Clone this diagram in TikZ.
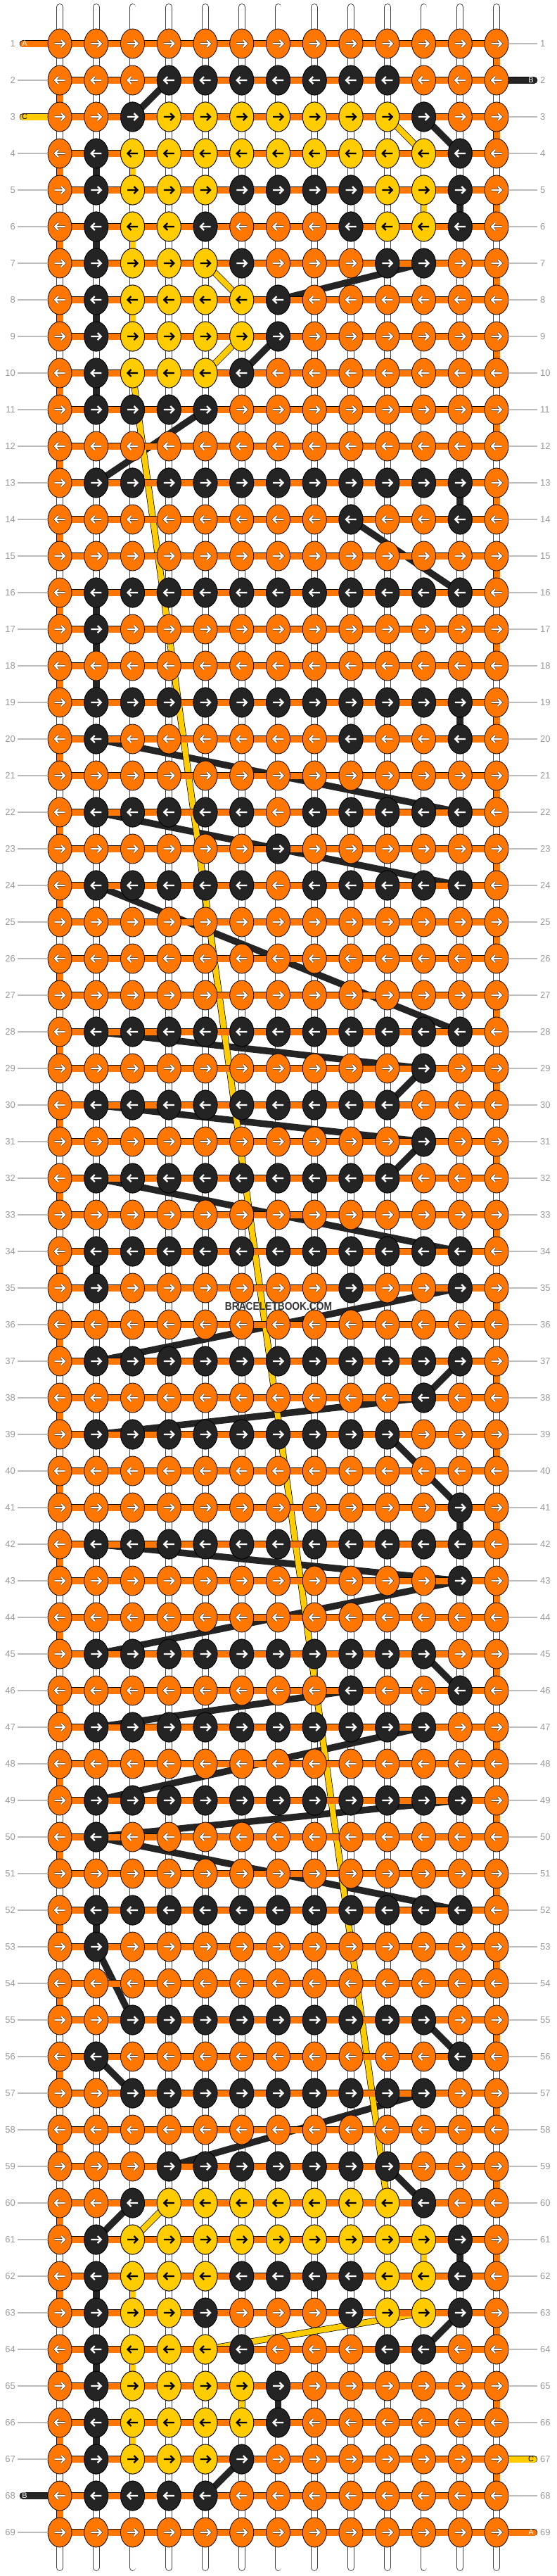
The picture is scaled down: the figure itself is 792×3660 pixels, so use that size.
\documentclass[tikz,border=0pt]{standalone}
\usepackage{fontspec}
\setmainfont{Liberation Sans}
\usetikzlibrary{shapes.geometric}

\definecolor{knotorange}{HTML}{FF7700}
\definecolor{knotblack}{HTML}{242424}
\definecolor{knotyellow}{HTML}{FFCC00}
\definecolor{labelgray}{HTML}{999999}
\definecolor{tickgray}{HTML}{BBBBBB}

\tikzset{
  knot/.style={ellipse, draw=black, line width=0.8pt, minimum width=34pt, minimum height=42pt, inner sep=0pt},
  basestring/.style={draw=black!75, double=white, double distance=8pt, line width=0.9pt, line cap=round},
  rowstring/.style={draw=black, double=knotorange, double distance=9pt, line width=0.8pt, line cap=round},
  blackfloat/.style={draw=knotblack, line width=9.5pt},
  yellowfloat/.style={draw=black, double=knotyellow, double distance=8pt, line width=0.7pt},
  blackstub/.style={draw=black, double=knotblack, double distance=9pt, line width=0.8pt, line cap=round},
  yellowstub/.style={draw=black, double=knotyellow, double distance=9pt, line width=0.8pt, line cap=round},
  arwlight/.style={draw=black!85, double=white, double distance=2.2pt, line width=0.6pt},
  arwdark/.style={draw=black, line width=2.4pt},
  rowlbl/.style={inner sep=0pt, text=labelgray, font=\fontsize{13}{13}\selectfont},
  tickline/.style={draw=tickgray, line width=1.5pt},
  stubtxt/.style={inner sep=0pt, font=\fontsize{11}{11}\selectfont},
  wmark/.style={inner sep=0pt, text=black!80, xscale=0.86, font=\fontsize{16}{16}\selectfont\bfseries}
}

% knot: row, column, fill, arrow style
\newcommand{\knotat}[4]{%
  \node[knot, fill=#3] (n-#1-#2) at (k-#1-#2) {};
  \pgfmathtruncatemacro{\dir}{isodd(#1) ? 1 : -1}
  \begin{scope}[shift={(k-#1-#2)}, xscale=\dir]
    \draw[#4] (-7.5,0) -- (7,0) (2,-5) -- (7,0) -- (2,5);
  \end{scope}}

\begin{document}
\begin{tikzpicture}[x=1pt, y=-1pt]
\useasboundingbox (0,0) rectangle (792,3660);

\foreach \r in {1,...,69}
{
\foreach \c in {1,...,13}
{
\coordinate (k-\r-\c) at ({85+51.75*(\c-1)},{62+52*(\r-1)});
}
}

% base strings
\foreach \c in {1,...,13}
{
\coordinate (top-\c) at ({85+51.75*(\c-1)},10);
\coordinate (bot-\c) at ({85+51.75*(\c-1)},3648);
\draw[basestring] (top-\c) -- (bot-\c);
}

\coordinate (aIn) at (33,62);
\coordinate (aOut) at (759,3598);
\coordinate (bIn) at (759,114);
\coordinate (bOut) at (33,3546);
\coordinate (cIn) at (33,166);
\coordinate (cOut) at (759,3494);

% black string carried behind
\foreach \ra/\ca/\rb/\cb in {2/4/3/3, 3/11/4/12, 4/2/5/2, 5/12/6/12, 6/2/7/2, 7/11/8/7, 8/2/9/2, 9/7/10/6, 10/2/11/2, 11/5/13/2, 13/12/14/12, 14/9/16/12, 16/2/17/2, 17/2/19/2, 19/12/20/12, 20/2/22/12, 22/2/23/7, 23/7/24/12, 24/2/28/12, 28/2/29/11, 29/11/30/10, 30/2/31/11, 31/11/32/10, 32/2/34/12, 34/2/35/2, 35/12/37/2, 37/12/38/11, 38/11/39/2, 39/10/41/12, 41/12/42/12, 42/2/43/12, 43/12/45/2, 45/11/46/12, 46/9/47/2, 47/11/49/2, 49/12/50/2, 50/2/52/12, 52/2/53/2, 53/2/55/3, 55/11/56/12, 56/2/57/3, 57/11/59/4, 59/10/60/11, 60/3/61/2, 61/12/62/12, 62/2/63/2, 63/12/64/11, 64/2/65/2, 65/7/66/7, 66/2/67/2, 67/6/68/5}
{
\draw[blackfloat] (k-\ra-\ca) -- (k-\rb-\cb);
}

% yellow string carried behind
\foreach \ra/\ca/\rb/\cb in {3/10/4/11, 4/3/5/3, 5/11/6/11, 6/3/7/3, 7/5/8/6, 8/3/9/3, 9/6/10/5, 10/3/60/10, 60/4/61/3, 61/11/62/11, 62/3/63/3, 63/11/64/5, 64/3/65/3, 65/6/66/6, 66/3/67/3}
{
\draw[yellowfloat] (k-\ra-\ca) -- (k-\rb-\cb);
}

\draw[blackstub] (k-2-13) -- (bIn);
\draw[blackstub] (k-68-1) -- (bOut);
\draw[yellowstub] (cIn) -- (k-3-1);
\draw[yellowstub] (k-67-13) -- (cOut);

% orange row string
\draw[rowstring] (aIn) -- (k-1-1);
\draw[rowstring] (k-69-13) -- (aOut);
\foreach \r in {1,...,69}
{
\draw[rowstring] (k-\r-1) -- (k-\r-13);
}
\foreach \r [evaluate=\r as \s using int(\r+1)] in {1,3,...,67}
{
\draw[rowstring] (k-\r-13) -- (k-\s-13);
}
\foreach \r [evaluate=\r as \s using int(\r+1)] in {2,4,...,68}
{
\draw[rowstring] (k-\r-1) -- (k-\s-1);
}

% knots
\foreach \r in {1,...,69}
{
\foreach \c in {1,...,13}
{
\knotat{\r}{\c}{knotorange}{arwlight}
}
}

\foreach \r/\cs in {2/{4,...,10}, 3/{3,11}, 4/{2,12}, 5/{2,6,7,8,9,12}, 6/{2,5,9,12}, 7/{2,6,10,11}, 8/{2,7}, 9/{2,7}, 10/{2,6}, 11/{2,...,5}, 13/{2,...,12}, 14/{9,12}, 16/{2,...,12}, 17/{2}, 19/{2,...,12}, 20/{2,9,12}, 22/{2,3,4,5,6,8,9,10,11,12}, 23/{7}, 24/{2,3,4,5,6,8,9,10,11,12}, 28/{2,...,12}, 29/{11}, 30/{2,...,10}, 31/{11}, 32/{2,...,10}, 34/{2,...,12}, 35/{2,9,12}, 37/{2,...,12}, 38/{11}, 39/{2,...,10}, 41/{12}, 42/{2,...,12}, 43/{12}, 45/{2,...,11}, 46/{9,12}, 47/{2,...,11}, 49/{2,...,12}, 50/{2}, 52/{2,...,12}, 53/{2}, 55/{3,...,11}, 56/{2,12}, 57/{3,...,11}, 59/{4,...,10}, 60/{3,11}, 61/{2,12}, 62/{2,6,7,8,9,12}, 63/{2,5,9,12}, 64/{2,6,10,11}, 65/{2,7}, 66/{2,7}, 67/{2,6}, 68/{2,...,5}}
{
\foreach \c in \cs
{
\knotat{\r}{\c}{knotblack}{arwlight}
}
}

\foreach \r/\cs in {3/{4,...,10}, 4/{3,...,11}, 5/{3,4,5,10,11}, 6/{3,4,10,11}, 7/{3,4,5}, 8/{3,4,5,6}, 9/{3,4,5,6}, 10/{3,4,5}, 60/{4,...,10}, 61/{3,...,11}, 62/{3,4,5,10,11}, 63/{3,4,10,11}, 64/{3,4,5}, 65/{3,4,5,6}, 66/{3,4,5,6}, 67/{3,4,5}}
{
\foreach \c in \cs
{
\knotat{\r}{\c}{knotyellow}{arwdark}
}
}

% row numbers
\foreach \r in {1,...,69}
{
\node[rowlbl, anchor=east] (lblL-\r) at (22,{62+52*(\r-1)}) {\r};
\node[rowlbl, anchor=west] (lblR-\r) at (768,{62+52*(\r-1)}) {\r};
}
\foreach \r in {2,4,5,...,67,69}
{
\draw[tickline] ([xshift=3pt]lblL-\r.east) -- (n-\r-1.west);
}
\foreach \r in {1,3,4,...,66,68}
{
\draw[tickline] (n-\r-13.east) -- ([xshift=-4pt]lblR-\r.west);
}

\node[stubtxt, text=white] (tA1) at (35,62) {A};
\node[stubtxt, text=white] (tB1) at (755,114) {B};
\node[stubtxt, text=black] (tC1) at (35,166) {C};
\node[stubtxt, text=black] (tC2) at (755,3494) {C};
\node[stubtxt, text=white] (tB2) at (35,3546) {B};
\node[stubtxt, text=white] (tA2) at (755,3598) {A};

\node[wmark] (wm) at (396,1856) {BRACELETBOOK.COM};

\end{tikzpicture}
\end{document}
